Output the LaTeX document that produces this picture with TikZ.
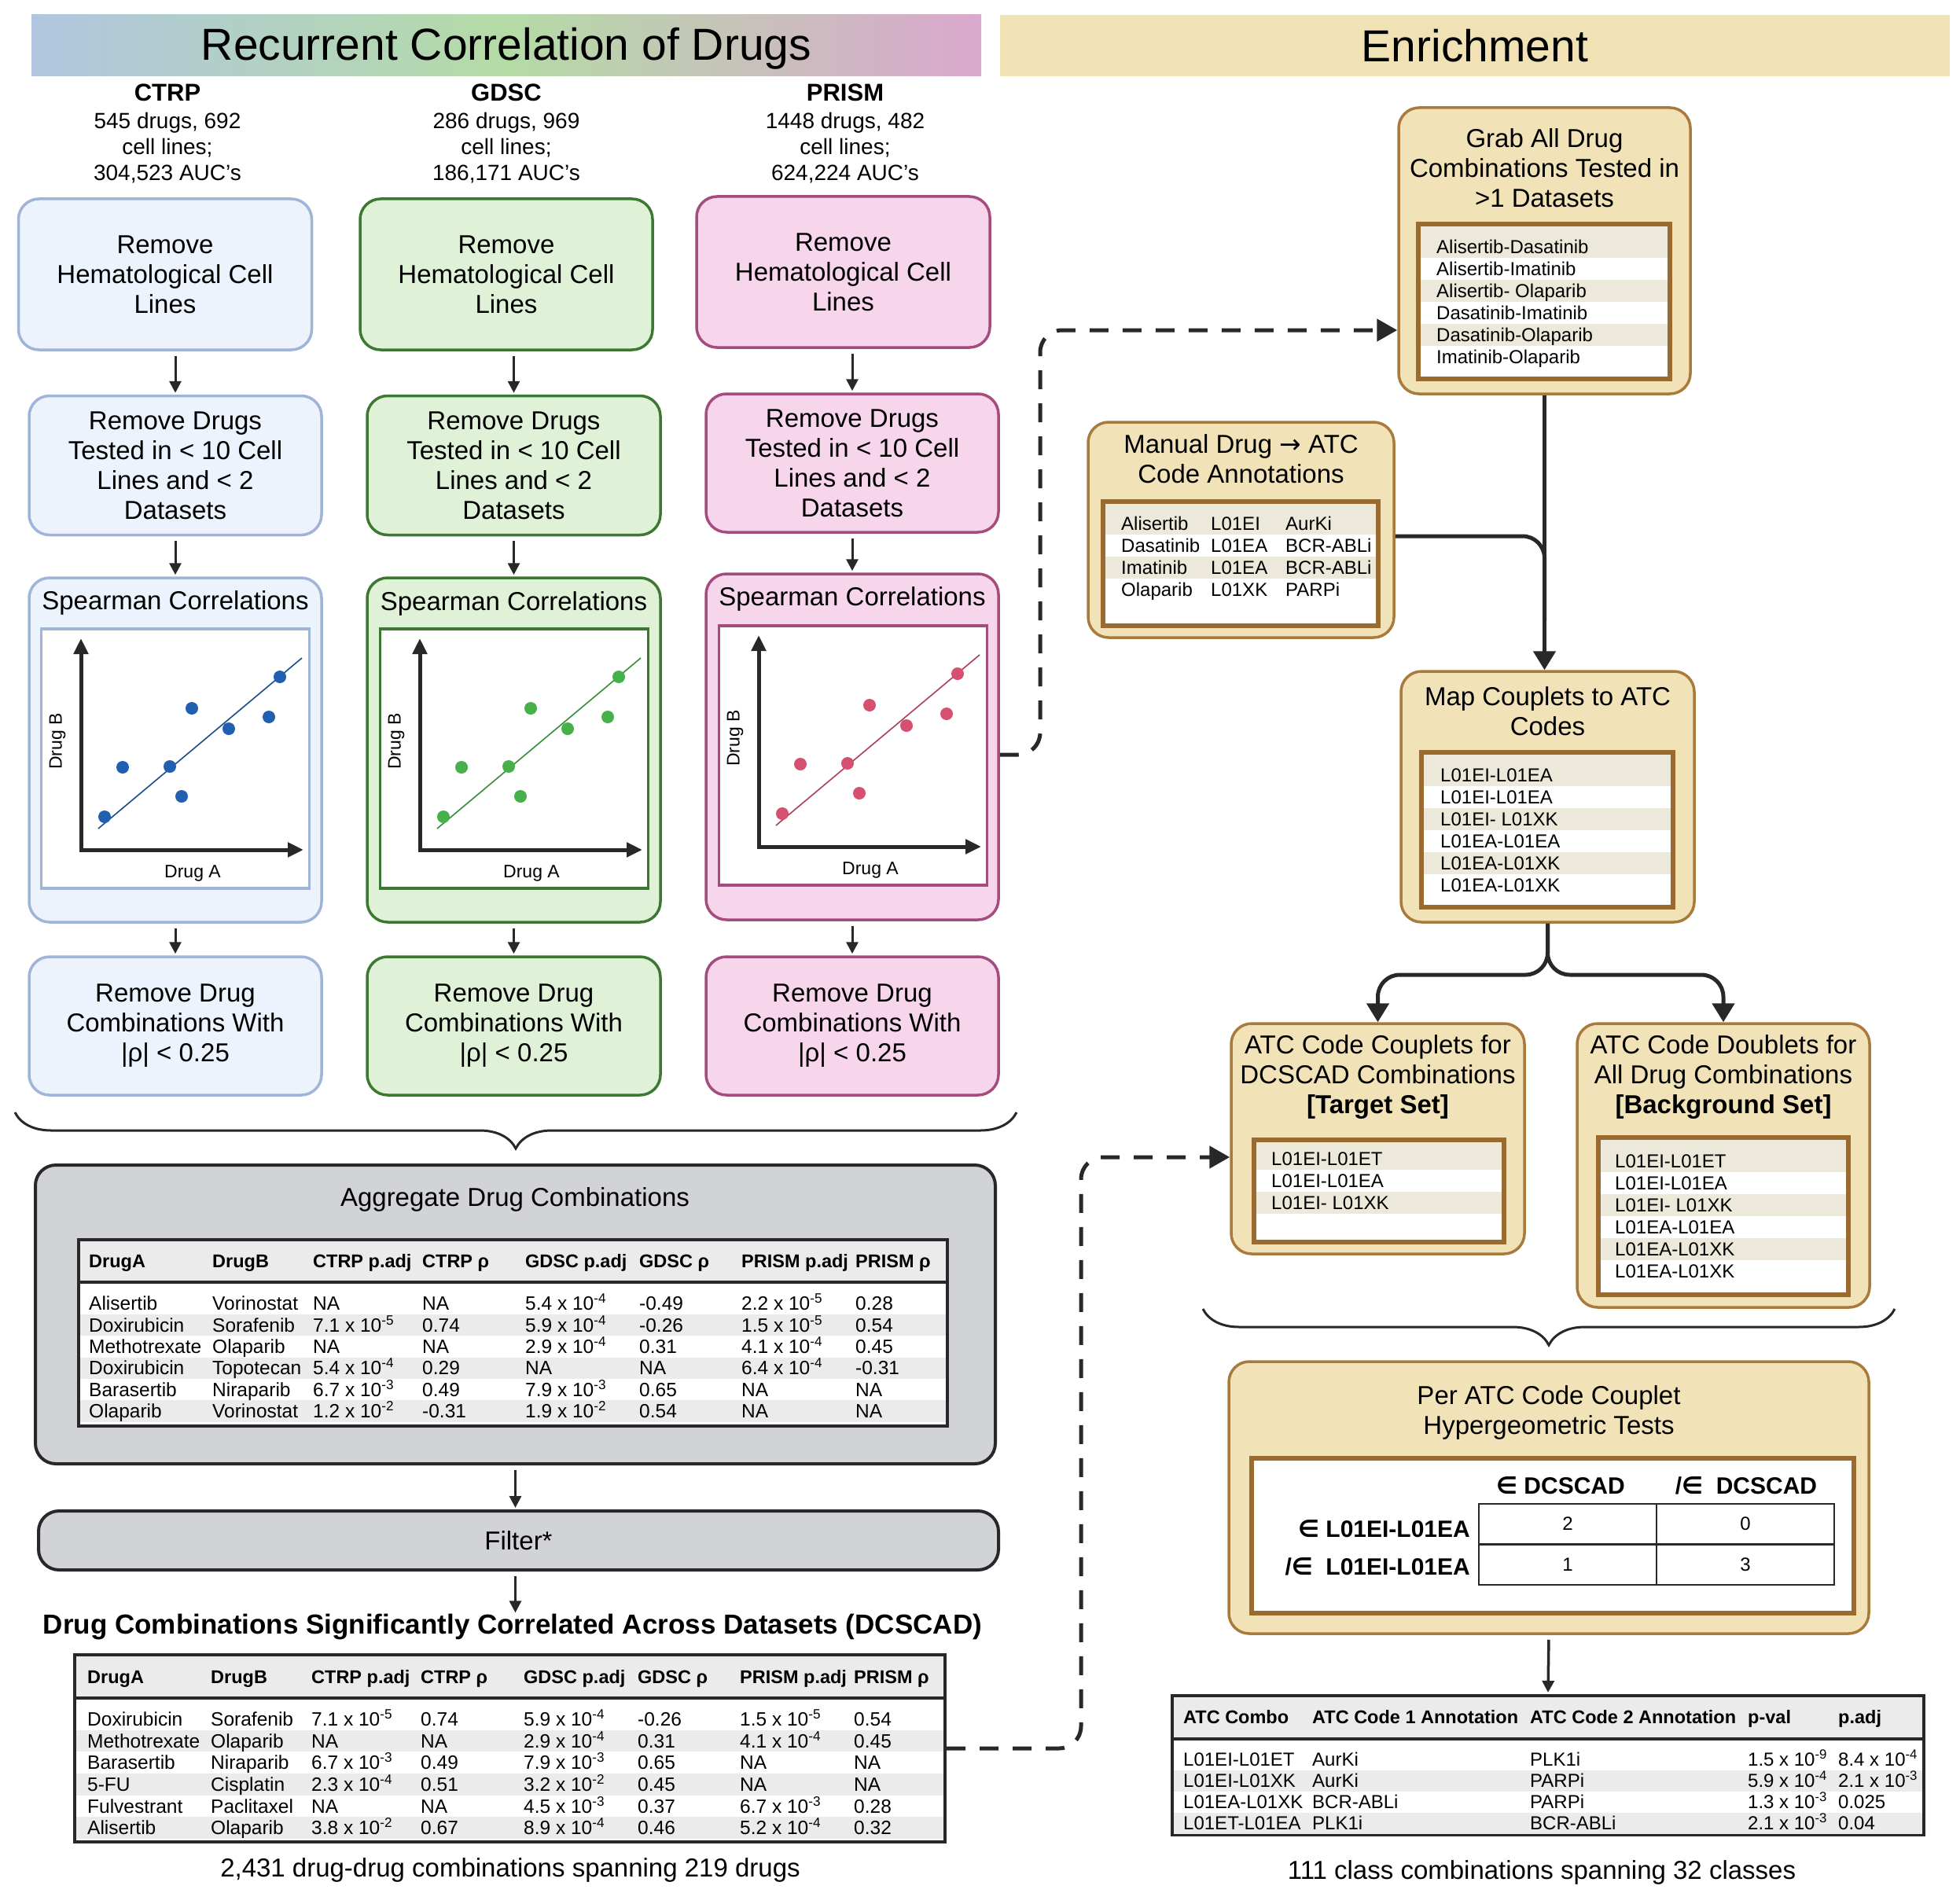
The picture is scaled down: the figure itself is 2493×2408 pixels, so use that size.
\documentclass[tikz,border=0pt]{standalone}
\usepackage{fontspec}
\setmainfont{Liberation Sans}
\newfontfamily\elemfont{DejaVu Sans}
\usetikzlibrary{arrows.meta,decorations.pathreplacing,positioning}
\newcommand{\tenpow}[2]{#1 x 10\textsuperscript{#2}}

\begin{document}
\begin{tikzpicture}[x=1pt,y=-1pt]
	\definecolor{ctrpFill}{RGB}{237,243,252}
	\definecolor{ctrpLine}{RGB}{160,180,216}
	\definecolor{ctrpDot}{RGB}{33,96,176}
	\definecolor{gdscFill}{RGB}{223,242,216}
	\definecolor{gdscLine}{RGB}{60,120,50}
	\definecolor{gdscDot}{RGB}{70,176,74}
	\definecolor{prismFill}{RGB}{247,214,236}
	\definecolor{prismLine}{RGB}{165,75,125}
	\definecolor{prismDot}{RGB}{214,80,112}
	\definecolor{headBlue}{RGB}{176,198,224}
	\definecolor{headGreen}{RGB}{180,219,166}
	\definecolor{headPink}{RGB}{218,168,206}
	\definecolor{enrichFill}{RGB}{240,226,181}
	\definecolor{tanFill}{RGB}{242,226,184}
	\definecolor{tanLine}{RGB}{168,122,60}
	\definecolor{listLine}{RGB}{155,106,47}
	\definecolor{listShade}{RGB}{236,232,218}
	\definecolor{aggFill}{RGB}{209,211,214}
	\definecolor{tblShade}{RGB}{235,235,235}
	\definecolor{lineDark}{RGB}{40,40,40}

	\tikzstyle{header}=[rectangle, minimum width=1208pt, minimum height=78pt, inner sep=0pt, font=\fontsize{57}{60}\selectfont]
	\tikzstyle{setname}=[font=\fontsize{31}{34}\selectfont\bfseries, inner sep=0pt]
	\tikzstyle{setinfo}=[font=\fontsize{28}{33}\selectfont, align=center, inner sep=0pt]
	\tikzstyle{stepbox}=[rectangle, rounded corners=26pt, line width=3.5pt, font=\fontsize{33}{38}\selectfont, align=center, inner sep=0pt]
	\tikzstyle{ctrpBox}=[fill=ctrpFill, draw=ctrpLine]
	\tikzstyle{gdscBox}=[fill=gdscFill, draw=gdscLine]
	\tikzstyle{prismBox}=[fill=prismFill, draw=prismLine]
	\tikzstyle{tanBox}=[fill=tanFill, draw=tanLine]
	\tikzstyle{grayBox}=[rectangle, rounded corners=26pt, fill=aggFill, draw=lineDark, line width=4pt, font=\fontsize{33}{38}\selectfont, inner sep=0pt]
	\tikzstyle{boxtitle}=[font=\fontsize{33}{38}\selectfont, align=center, inner sep=0pt]
	\tikzstyle{plotframe}=[rectangle, fill=white, line width=3.5pt, minimum width=341pt, minimum height=330pt]
	\tikzstyle{axisline}=[line width=5pt, draw=lineDark, arrows={Triangle[length=20pt,width=18pt]-Triangle[length=20pt,width=18pt]}]
	\tikzstyle{fitline}=[line width=1.6pt]
	\tikzstyle{axislabel}=[font=\fontsize{23}{26}\selectfont, inner sep=0pt]
	\tikzstyle{listframe}=[rectangle, fill=white, draw=listLine, line width=6pt, inner sep=0pt]
	\tikzstyle{listtext}=[font=\fontsize{24}{28}\selectfont, anchor=west, inner sep=0pt, text height=17pt, text depth=0pt]
	\tikzstyle{tblframe}=[rectangle, fill=white, draw=lineDark, line width=4pt, inner sep=0pt]
	\tikzstyle{cellhead}=[font=\fontsize{23.5}{27}\selectfont\bfseries, anchor=west, inner sep=0pt, text height=17pt, text depth=0pt]
	\tikzstyle{cell}=[font=\fontsize{24.5}{27}\selectfont, anchor=west, inner sep=0pt, text height=17.5pt, text depth=0pt]
	\tikzstyle{hyhead}=[font=\fontsize{30}{34}\selectfont\bfseries, inner sep=0pt, text height=21pt, text depth=0pt]
	\tikzstyle{hcell}=[rectangle, draw=lineDark, line width=2.5pt, minimum width=226pt, minimum height=51.5pt, font=\fontsize{24}{28}\selectfont]
	\tikzstyle{heading}=[font=\fontsize{35}{40}\selectfont\bfseries, inner sep=0pt]
	\tikzstyle{caption}=[font=\fontsize{33}{38}\selectfont, inner sep=0pt]
	\tikzstyle{smallarrow}=[line width=3pt, draw=lineDark, -{Triangle[length=15pt,width=15pt]}, shorten <=6pt, shorten >=2pt]
	\tikzstyle{bigline}=[line width=5pt, draw=lineDark]
	\tikzstyle{bigarrow}=[bigline, -{Triangle[length=24pt,width=28pt]}]
	\tikzstyle{dasharrow}=[line width=5pt, draw=lineDark, dash pattern=on 24pt off 18pt, -{Triangle[length=26pt,width=28pt]}]
	\tikzstyle{bracket}=[decorate, decoration={brace, mirror, amplitude=46pt}, line width=3pt, draw=lineDark]

	\useasboundingbox (0,0) rectangle (2493,2408);

	% titles
	\node[header, left color=headBlue, right color=headPink, middle color=headGreen] (titleLeft) at (644,58) {};
	\node[font=\fontsize{57}{60}\selectfont, inner sep=0pt] (titleLeftText) at (644,62) {Recurrent Correlation of Drugs};
	\node[header, fill=enrichFill] (titleRight) at (1876,58) {Enrichment};

	\node[setname] (ctrpName) at (213,118) {CTRP};
	\node[setinfo] (ctrpInfo) at (213,188) {545 drugs, 692\\cell lines;\\304,523 AUC's};
	\node[setname] (gdscName) at (644,118) {GDSC};
	\node[setinfo] (gdscInfo) at (644,188) {286 drugs, 969\\cell lines;\\186,171 AUC's};
	\node[setname] (prismName) at (1075,118) {PRISM};
	\node[setinfo] (prismInfo) at (1075,188) {1448 drugs, 482\\cell lines;\\624,224 AUC's};

	% CTRP column
	\node[stepbox, ctrpBox, minimum width=373pt, minimum height=192pt] (hemA) at (210,349) {Remove\\Hematological Cell\\Lines};
	\node[stepbox, ctrpBox, minimum width=372pt, minimum height=177pt] (filtA) at (223,592) {Remove Drugs\\Tested in < 10 Cell\\Lines and < 2\\Datasets};
	\node[stepbox, ctrpBox, minimum width=372pt, minimum height=438pt] (spearA) at (223,954) {};
	\node[boxtitle] (spearTitleA) at (223,767) {Spearman Correlations};
	\node[stepbox, ctrpBox, minimum width=372pt, minimum height=176pt] (rhoA) at (223,1305) {Remove Drug\\Combinations With\\|ρ| < 0.25};

	% GDSC column
	\node[stepbox, gdscBox, minimum width=372pt, minimum height=192pt] (hemB) at (644,349) {Remove\\Hematological Cell\\Lines};
	\node[stepbox, gdscBox, minimum width=373pt, minimum height=177pt] (filtB) at (653.5,592) {Remove Drugs\\Tested in < 10 Cell\\Lines and < 2\\Datasets};
	\node[stepbox, gdscBox, minimum width=373pt, minimum height=438pt] (spearB) at (653.5,954) {};
	\node[boxtitle] (spearTitleB) at (653.5,768) {Spearman Correlations};
	\node[stepbox, gdscBox, minimum width=373pt, minimum height=176pt] (rhoB) at (653.5,1305) {Remove Drug\\Combinations With\\|ρ| < 0.25};

	% PRISM column
	\node[stepbox, prismBox, minimum width=373pt, minimum height=192pt] (hemC) at (1072.5,346) {Remove\\Hematological Cell\\Lines};
	\node[stepbox, prismBox, minimum width=372pt, minimum height=176pt] (filtC) at (1084,589) {Remove Drugs\\Tested in < 10 Cell\\Lines and < 2\\Datasets};
	\node[stepbox, prismBox, minimum width=372pt, minimum height=440pt] (spearC) at (1084,950) {};
	\node[boxtitle] (spearTitleC) at (1084,762) {Spearman Correlations};
	\node[stepbox, prismBox, minimum width=372pt, minimum height=176pt] (rhoC) at (1084,1305) {Remove Drug\\Combinations With\\|ρ| < 0.25};

	\draw[smallarrow] (hemA.south -| filtA) -- (filtA.north);
	\draw[smallarrow] (filtA.south) -- (spearA.north);
	\draw[smallarrow] (spearA.south) -- (rhoA.north);
	\draw[smallarrow] (hemB.south -| filtB) -- (filtB.north);
	\draw[smallarrow] (filtB.south) -- (spearB.north);
	\draw[smallarrow] (spearB.south) -- (rhoB.north);
	\draw[smallarrow] (hemC.south -| filtC) -- (filtC.north);
	\draw[smallarrow] (filtC.south) -- (spearC.north);
	\draw[smallarrow] (spearC.south) -- (rhoC.north);

	% scatter plots
	\foreach \nm/\dx/\dy/\ln/\dc in {A/0/0/ctrpLine/ctrpDot, B/431/0/gdscLine/gdscDot, C/862/-4/prismLine/prismDot} {
		\begin{scope}[shift={(\dx,\dy)}]
			\node[plotframe, draw=\ln] (plot\nm) at (223,965) {};
			\draw[axisline] (103,812) -- (103,1081) -- (386,1081);
			\draw[fitline, draw=\dc!80!black] (125,1054) -- (384,837);
			\foreach \px/\py in {133/1039, 156/976, 216/975, 231/1013, 244/901, 291/927, 342/912, 356/861}
				\fill[\dc] (\px,\py) circle (8pt);
			\node[axislabel, rotate=90] (drugB\nm) at (73,943) {Drug B};
			\node[axislabel] (drugA\nm) at (245,1111) {Drug A};
		\end{scope}
	}

	\draw[bracket] (19,1415) -- (1293,1415);

	% aggregate table
	\node[grayBox, minimum width=1221pt, minimum height=380pt] (aggBox) at (655.5,1672) {};
	\node[boxtitle] (aggTitle) at (655,1526) {Aggregate Drug Combinations};
	\node[tblframe, minimum width=1105pt, minimum height=237pt] (aggTbl) at (652.5,1695.5) {};
	\fill[tblShade] (102,1579) rectangle (1203,1631);
	\foreach \i in {2,4,6}
		\fill[tblShade] (102,{1617+27.4*\i}) rectangle (1203,{1644.4+27.4*\i});
	\draw[line width=4pt, lineDark] (100,1631) -- (1205,1631);
	\foreach \cx/\ct [count=\j] in {113/DrugA, 270/DrugB, 398/CTRP p.adj, 537/CTRP ρ, 668/GDSC p.adj, 813/GDSC ρ, 943/PRISM p.adj, 1088/PRISM ρ}
		\node[cellhead] (aggHd\j) at (\cx,1604) {\ct};
	\foreach \da/\db/\cp/\cr/\gp/\gr/\pp/\pr [count=\i] in {
		Alisertib/Vorinostat/NA/NA/{\tenpow{5.4}{-4}}/-0.49/{\tenpow{2.2}{-5}}/0.28,
		Doxirubicin/Sorafenib/{\tenpow{7.1}{-5}}/0.74/{\tenpow{5.9}{-4}}/-0.26/{\tenpow{1.5}{-5}}/0.54,
		Methotrexate/Olaparib/NA/NA/{\tenpow{2.9}{-4}}/0.31/{\tenpow{4.1}{-4}}/0.45,
		Doxirubicin/Topotecan/{\tenpow{5.4}{-4}}/0.29/NA/NA/{\tenpow{6.4}{-4}}/-0.31,
		Barasertib/Niraparib/{\tenpow{6.7}{-3}}/0.49/{\tenpow{7.9}{-3}}/0.65/NA/NA,
		Olaparib/Vorinostat/{\tenpow{1.2}{-2}}/-0.31/{\tenpow{1.9}{-2}}/0.54/NA/NA} {
		\node[cell] (aggDa\i) at (113,{1630.6+27.4*\i}) {\da};
		\node[cell] (aggDb\i) at (270,{1630.6+27.4*\i}) {\db};
		\node[cell] (aggCp\i) at (398,{1630.6+27.4*\i}) {\cp};
		\node[cell] (aggCr\i) at (537,{1630.6+27.4*\i}) {\cr};
		\node[cell] (aggGp\i) at (668,{1630.6+27.4*\i}) {\gp};
		\node[cell] (aggGr\i) at (813,{1630.6+27.4*\i}) {\gr};
		\node[cell] (aggPp\i) at (943,{1630.6+27.4*\i}) {\pp};
		\node[cell] (aggPr\i) at (1088,{1630.6+27.4*\i}) {\pr};
	}

	\node[grayBox, minimum width=1221pt, minimum height=75pt] (filterBox) at (659.5,1959.5) {Filter*};
	\draw[smallarrow] (aggBox.south) -- (aggBox.south |- filterBox.north);

	\node[heading] (dcscadHead) at (652,2070) {Drug Combinations Significantly Correlated Across Datasets (DCSCAD)};
	\draw[smallarrow] (filterBox.south -| aggBox) -- (aggBox.south |- dcscadHead.north);

	% DCSCAD table
	\node[tblframe, minimum width=1107pt, minimum height=238pt] (dcscadTbl) at (648.5,2224) {};
	\fill[tblShade] (97,2107) rectangle (1200,2160);
	\foreach \i in {2,4,6}
		\fill[tblShade] (97,{2145.6+27.6*\i}) rectangle (1200,{2173.2+27.6*\i});
	\draw[line width=4pt, lineDark] (95,2160) -- (1202,2160);
	\foreach \cx/\ct [count=\j] in {111/DrugA, 268/DrugB, 396/CTRP p.adj, 535/CTRP ρ, 666/GDSC p.adj, 811/GDSC ρ, 941/PRISM p.adj, 1086/PRISM ρ}
		\node[cellhead] (sigHd\j) at (\cx,2133) {\ct};
	\foreach \da/\db/\cp/\cr/\gp/\gr/\pp/\pr [count=\i] in {
		Doxirubicin/Sorafenib/{\tenpow{7.1}{-5}}/0.74/{\tenpow{5.9}{-4}}/-0.26/{\tenpow{1.5}{-5}}/0.54,
		Methotrexate/Olaparib/NA/NA/{\tenpow{2.9}{-4}}/0.31/{\tenpow{4.1}{-4}}/0.45,
		Barasertib/Niraparib/{\tenpow{6.7}{-3}}/0.49/{\tenpow{7.9}{-3}}/0.65/NA/NA,
		5-FU/Cisplatin/{\tenpow{2.3}{-4}}/0.51/{\tenpow{3.2}{-2}}/0.45/NA/NA,
		Fulvestrant/Paclitaxel/NA/NA/{\tenpow{4.5}{-3}}/0.37/{\tenpow{6.7}{-3}}/0.28,
		Alisertib/Olaparib/{\tenpow{3.8}{-2}}/0.67/{\tenpow{8.9}{-4}}/0.46/{\tenpow{5.2}{-4}}/0.32} {
		\node[cell] (sigDa\i) at (111,{2159.4+27.6*\i}) {\da};
		\node[cell] (sigDb\i) at (268,{2159.4+27.6*\i}) {\db};
		\node[cell] (sigCp\i) at (396,{2159.4+27.6*\i}) {\cp};
		\node[cell] (sigCr\i) at (535,{2159.4+27.6*\i}) {\cr};
		\node[cell] (sigGp\i) at (666,{2159.4+27.6*\i}) {\gp};
		\node[cell] (sigGr\i) at (811,{2159.4+27.6*\i}) {\gr};
		\node[cell] (sigPp\i) at (941,{2159.4+27.6*\i}) {\pp};
		\node[cell] (sigPr\i) at (1086,{2159.4+27.6*\i}) {\pr};
	}
	\node[caption] (dcscadCap) at (649,2379) {2,431 drug-drug combinations spanning 219 drugs};

	% enrichment side
	\node[stepbox, tanBox, minimum width=371pt, minimum height=364pt] (grabBox) at (1964.5,319) {};
	\node[boxtitle] (grabTitle) at (1964.5,214) {Grab All Drug\\Combinations Tested in\\>1 Datasets};
	\node[listframe, minimum width=320pt, minimum height=197pt] (grabList) at (1964,383.5) {};
	\foreach \ya/\yb in {288/328, 356/384, 412/440}
		\fill[listShade] (1807,\ya) rectangle (2121,\yb);
	\foreach \t [count=\i] in {Alisertib-Dasatinib, Alisertib-Imatinib, Alisertib- Olaparib, Dasatinib-Imatinib, Dasatinib-Olaparib, Imatinib-Olaparib}
		\node[listtext] (grab\i) at (1827,{286+28*\i}) {\t};

	\node[stepbox, tanBox, minimum width=389pt, minimum height=274pt] (manualBox) at (1578.5,674) {};
	\node[boxtitle] (manualTitle) at (1578.5,584) {Manual Drug {\elemfont →} ATC\\Code Annotations};
	\node[listframe, minimum width=350pt, minimum height=158pt] (manualList) at (1578,717) {};
	\foreach \ya/\yb in {641/680, 708/736}
		\fill[listShade] (1406,\ya) rectangle (1750,\yb);
	\foreach \dn/\code/\cls [count=\i] in {Alisertib/L01EI/AurKi, Dasatinib/L01EA/BCR-ABLi, Imatinib/L01EA/BCR-ABLi, Olaparib/L01XK/PARPi} {
		\node[listtext] (manDrug\i) at (1426,{638+28*\i}) {\dn};
		\node[listtext] (manCode\i) at (1540,{638+28*\i}) {\code};
		\node[listtext] (manCls\i) at (1635,{638+28*\i}) {\cls};
	}

	\node[stepbox, tanBox, minimum width=373pt, minimum height=319pt] (mapBox) at (1968.5,1013.5) {};
	\node[boxtitle] (mapTitle) at (1968.5,905) {Map Couplets to ATC\\Codes};
	\node[listframe, minimum width=320pt, minimum height=197pt] (mapList) at (1968,1055.5) {};
	\foreach \ya/\yb in {960/1000, 1028/1056, 1084/1112}
		\fill[listShade] (1811,\ya) rectangle (2125,\yb);
	\foreach \t [count=\i] in {L01EI-L01EA, L01EI-L01EA, L01EI- L01XK, L01EA-L01EA, L01EA-L01XK, L01EA-L01XK}
		\node[listtext] (map\i) at (1832,{958+28*\i}) {\t};

	\node[stepbox, tanBox, minimum width=373pt, minimum height=293pt] (targetBox) at (1752.5,1448.5) {};
	\node[boxtitle] (targetTitle) at (1752.5,1370) {ATC Code Couplets for\\DCSCAD Combinations\\\textbf{[Target Set]}};
	\node[listframe, minimum width=318pt, minimum height=130pt] (targetList) at (1754,1515) {};
	\foreach \ya/\yb in {1453/1488, 1516/1544}
		\fill[listShade] (1598,\ya) rectangle (1910,\yb);
	\foreach \t [count=\i] in {L01EI-L01ET, L01EI-L01EA, L01EI- L01XK}
		\node[listtext] (target\i) at (1617,{1446+28*\i}) {\t};

	\node[stepbox, tanBox, minimum width=372pt, minimum height=361pt] (bgBox) at (2192,1482.5) {};
	\node[boxtitle] (bgTitle) at (2192,1370) {ATC Code Doublets for\\All Drug Combinations\\\textbf{[Background Set]}};
	\node[listframe, minimum width=318pt, minimum height=200pt] (bgList) at (2192,1547) {};
	\foreach \ya/\yb in {1450/1491, 1519/1547, 1575/1603}
		\fill[listShade] (2036,\ya) rectangle (2348,\yb);
	\foreach \t [count=\i] in {L01EI-L01ET, L01EI-L01EA, L01EI- L01XK, L01EA-L01EA, L01EA-L01XK, L01EA-L01XK}
		\node[listtext] (bg\i) at (2054,{1449+28*\i}) {\t};

	\draw[bracket] (1530,1665) -- (2410,1665);

	\node[stepbox, tanBox, minimum width=814pt, minimum height=346pt] (hyperBox) at (1970,1905) {};
	\node[boxtitle] (hyperTitle) at (1970,1797) {Per ATC Code Couplet\\Hypergeometric Tests};
	\node[listframe, minimum width=766pt, minimum height=197pt] (hyperFrame) at (1975,1953.5) {};
	\node[hyhead] (inDcscad) at (1985,1890) {{\elemfont ∈} DCSCAD};
	\node[hyhead] (notDcscad) at (2221,1890) {/{\elemfont ∈}\ \ DCSCAD};
	\node[hyhead, anchor=east] (inCouplet) at (1870,1945) {{\elemfont ∈} L01EI-L01EA};
	\node[hyhead, anchor=east] (notCouplet) at (1870,1993) {/{\elemfont ∈}\ \ L01EI-L01EA};
	\node[hcell] (cellInIn) at (1994,1938.5) {2};
	\node[hcell] (cellInOut) at (2220,1938.5) {0};
	\node[hcell] (cellOutIn) at (1994,1990) {1};
	\node[hcell] (cellOutOut) at (2220,1990) {3};

	% result table
	\node[tblframe, minimum width=956pt, minimum height=177pt] (atcTbl) at (1969,2245.5) {};
	\fill[tblShade] (1493,2159) rectangle (2445,2212);
	\foreach \i in {2,4}
		\fill[tblShade] (1493,{2197.5+27*\i}) rectangle (2445,{2224.5+27*\i});
	\draw[line width=4pt, lineDark] (1491,2212) -- (2447,2212);
	\foreach \cx/\ct [count=\j] in {1505/ATC Combo, 1669/ATC Code 1 Annotation, 1946/ATC Code 2 Annotation, 2223/p-val, 2338/p.adj}
		\node[cellhead] (atcHd\j) at (\cx,2184) {\ct};
	\foreach \combo/\an/\bn/\pv/\pa [count=\i] in {
		L01EI-L01ET/AurKi/PLK1i/{\tenpow{1.5}{-9}}/{\tenpow{8.4}{-4}},
		L01EI-L01XK/AurKi/PARPi/{\tenpow{5.9}{-4}}/{\tenpow{2.1}{-3}},
		L01EA-L01XK/BCR-ABLi/PARPi/{\tenpow{1.3}{-3}}/0.025,
		L01ET-L01EA/PLK1i/BCR-ABLi/{\tenpow{2.1}{-3}}/0.04} {
		\node[cell, font=\fontsize{24}{27}\selectfont] (atcC\i) at (1505,{2211+27*\i}) {\combo};
		\node[cell, font=\fontsize{24}{27}\selectfont] (atcA\i) at (1669,{2211+27*\i}) {\an};
		\node[cell, font=\fontsize{24}{27}\selectfont] (atcB\i) at (1946,{2211+27*\i}) {\bn};
		\node[cell, font=\fontsize{24}{27}\selectfont] (atcP\i) at (2223,{2211+27*\i}) {\pv};
		\node[cell, font=\fontsize{24}{27}\selectfont] (atcQ\i) at (2338,{2211+27*\i}) {\pa};
	}
	\node[caption] (atcCap) at (1961,2382) {111 class combinations spanning 32 classes};

	% connectors
	\coordinate (mergePt) at (1964.5,790);
	\coordinate (mapSplit) at (1968.5,1240);
	\coordinate (dashTurnA) at (1323,420);
	\coordinate (dashTurnB) at (1375,1472);

	\draw[bigarrow] (grabBox.south) -- (grabBox.south |- mapBox.north);
	\draw[bigline, rounded corners=28pt] ([yshift=-8pt]manualBox.east) -| (mergePt);
	\draw[bigarrow, rounded corners=28pt] (mapBox.south) -- (mapSplit) -| (targetBox.north);
	\draw[bigarrow, rounded corners=28pt] (mapBox.south) -- (mapSplit) -| (bgBox.north);
	\draw[smallarrow, line width=3.5pt] (hyperBox.south) -- (atcTbl.north);
	\draw[dasharrow, rounded corners=28pt] ([yshift=-10pt]spearC.east) -| (dashTurnA) -- (dashTurnA -| grabBox.west);
	\draw[dasharrow, rounded corners=28pt] (dcscadTbl.east) -| (dashTurnB) -- (dashTurnB -| targetBox.west);
\end{tikzpicture}
\end{document}
